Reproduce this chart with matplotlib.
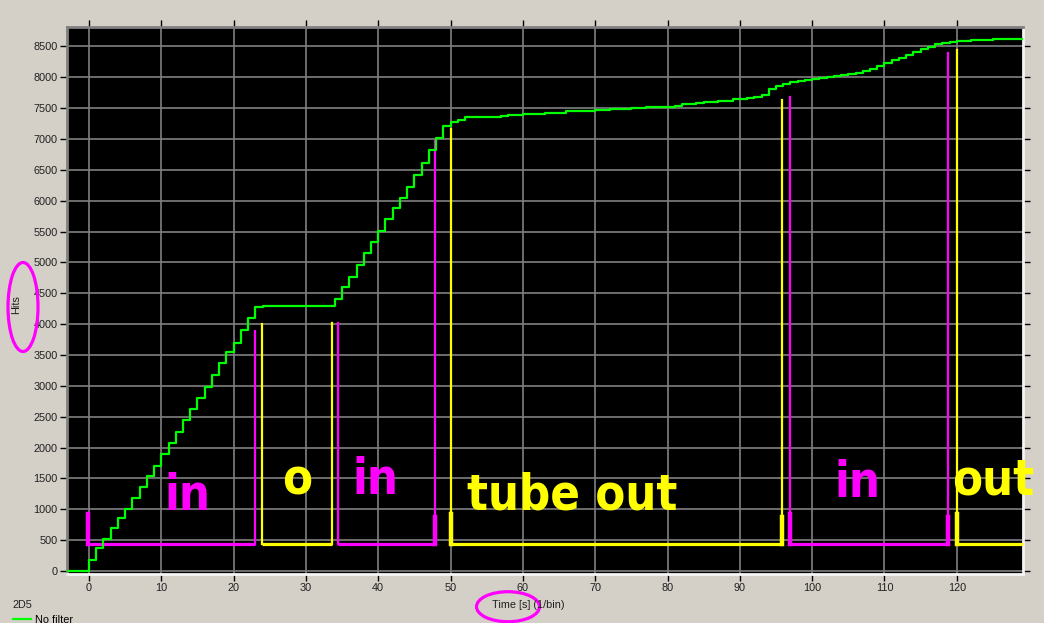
import numpy as np
import matplotlib.pyplot as plt
from matplotlib.patches import Ellipse

# cumulative hits, each value holds from t[i] until t[i+1]
t = [-4, 0, 1, 2, 3, 4, 5, 6, 7, 8, 9, 10, 11, 12, 13, 14, 15, 16, 17, 18, 19,
     20, 21, 22, 23, 24, 34, 35, 36, 37, 38, 39, 40, 41, 42, 43, 44, 45, 46,
     47, 48, 49, 50, 51, 52, 54, 57, 58, 60, 63, 66, 70, 72, 75, 77, 78, 81,
     82, 84, 85, 87, 89, 91, 92, 93, 94, 95, 96, 97, 98, 99, 100, 101, 102,
     103, 104, 105, 106, 107, 108, 109, 110, 111, 112, 113, 114, 115, 116,
     117, 118, 119, 120, 122, 125, 131]
hits = [0, 178, 368, 518, 692, 854, 1004, 1183, 1361, 1539, 1701, 1891, 2078,
        2257, 2446, 2620, 2803, 2986, 3170, 3365, 3543, 3698, 3904, 4094, 4272,
        4293, 4406, 4600, 4762, 4952, 5157, 5335, 5508, 5697, 5875, 6043, 6216,
        6410, 6605, 6820, 7010, 7209, 7269, 7306, 7350, 7362, 7375, 7392, 7409,
        7425, 7447, 7463, 7480, 7496, 7512, 7522, 7538, 7560, 7576, 7593, 7622,
        7646, 7667, 7684, 7706, 7808, 7862, 7889, 7917, 7938, 7954, 7970, 7981,
        7997, 8014, 8030, 8051, 8073, 8095, 8127, 8176, 8234, 8278, 8316, 8364,
        8408, 8456, 8494, 8533, 8549, 8565, 8581, 8607, 8623, 8623]

# hand drawn in/out brackets
br_left = [-0.2, 23.9, 34.5, 50.0, 97.0, 120.0]
br_right = [23.0, 33.6, 47.9, 95.9, 118.8, 129.3]
br_top_left = [930, 4000, 4010, 7160, 7680, 8450]
br_top_right = [3890, 4020, 6990, 7640, 8390, np.nan]
br_stub_left = [True, False, False, True, True, True]
br_stub_right = [False, False, True, True, True, False]
br_color = ['#ff00ff', '#ffff00', '#ff00ff', '#ffff00', '#ff00ff', '#ffff00']
br_base = 440
stub_top = 870

labels = ['in', 'o', 'in', 'tube out', 'in', 'out']
label_x = [13.6, 28.8, 39.6, 66.8, 106.2, 125.0]
label_y = [990, 1231, 1247, 990, 1199, 1231]
label_color = ['#ff00ff', '#ffff00', '#ff00ff', '#ffff00', '#ff00ff', '#ffff00']

small = ['Liberation Sans', 'DejaVu Sans']

W, H = 1044, 623
fig = plt.figure(figsize=(W / 100, H / 100), dpi=100, facecolor='#d4d0c8')
ax = fig.add_axes([66.7 / W, 1 - 574 / H, (1023.3 - 66.7) / W, (574 - 26.7) / H])
ax.set_facecolor('black')

for i in range(len(br_left)):
    c = br_color[i]
    ax.plot([br_left[i], br_right[i]], [br_base, br_base], color=c, lw=2.3,
            solid_capstyle='butt', zorder=3)
    ax.plot([br_left[i], br_left[i]], [br_base, br_top_left[i]], color=c,
            lw=1.6, zorder=3)
    if not np.isnan(br_top_right[i]):
        ax.plot([br_right[i], br_right[i]], [br_base, br_top_right[i]],
                color=c, lw=1.6, zorder=3)
    if br_stub_left[i]:
        ax.plot([br_left[i], br_left[i]], [br_base, max(stub_top, min(br_top_left[i], 930))],
                color=c, lw=3.2, zorder=3)
    if br_stub_right[i]:
        ax.plot([br_right[i], br_right[i]], [br_base, stub_top], color=c,
                lw=3.2, zorder=3)

line, = ax.step(t, hits, where='post', color='#00ff00', lw=1.6, zorder=4)

for s, x, y, c in zip(labels, label_x, label_y, label_color):
    ax.text(x, y, s, color=c, fontsize=35, fontweight='bold',
            family='DejaVu Sans', fontstretch='condensed',
            ha='center', va='baseline', zorder=5, clip_on=False)

ax.set_xlim(-3.08, 129.2)
ax.set_ylim(-50, 8820)
ax.set_xticks(range(0, 121, 10))
ax.set_yticks(range(0, 8501, 500))
ax.grid(color='#808080', lw=1.2)
ax.set_axisbelow(True)
ax.tick_params(direction='out', length=5, width=1, color='black', pad=1.5,
               top=True, right=True, labelsize=7.8, labelcolor='#202020')
for lab in ax.get_xticklabels() + ax.get_yticklabels():
    lab.set_family(small)

for side in ['top', 'left']:
    ax.spines[side].set_color('#808080')
    ax.spines[side].set_linewidth(2)
for side in ['bottom', 'right']:
    ax.spines[side].set_color('#f4f4f4')
    ax.spines[side].set_linewidth(2)

fig.text(16 / W, 1 - 305 / H, 'Hits', rotation=90, ha='center', va='center',
         fontsize=7.8, family=small, color='#202020')
fig.text(528.5 / W, 1 - 604.5 / H, 'Time [s] (1/bin)', ha='center', va='center',
         fontsize=7.8, family=small, color='#202020')
fig.text(12.7 / W, 1 - 604.5 / H, '2D5', ha='left', va='center',
         fontsize=7.8, family=small, color='#202020')

fig.add_artist(Ellipse((23 / W, 1 - 307 / H), 30 / W, 89 / H, fill=False,
                       ec='#ff00ff', lw=2.3, transform=fig.transFigure))
fig.add_artist(Ellipse((508 / W, 1 - 606.7 / H), 63 / W, 30 / H, fill=False,
                       ec='#ff00ff', lw=2.3, transform=fig.transFigure))

leg = fig.legend([line], ['No filter'], loc='center left',
                 bbox_to_anchor=(8 / W, 1 - 620 / H), frameon=False,
                 handlelength=1.6, handletextpad=0.4, borderpad=0,
                 prop={'family': small, 'size': 7.8})

fig.savefig('out.png', dpi=100, facecolor=fig.get_facecolor())
